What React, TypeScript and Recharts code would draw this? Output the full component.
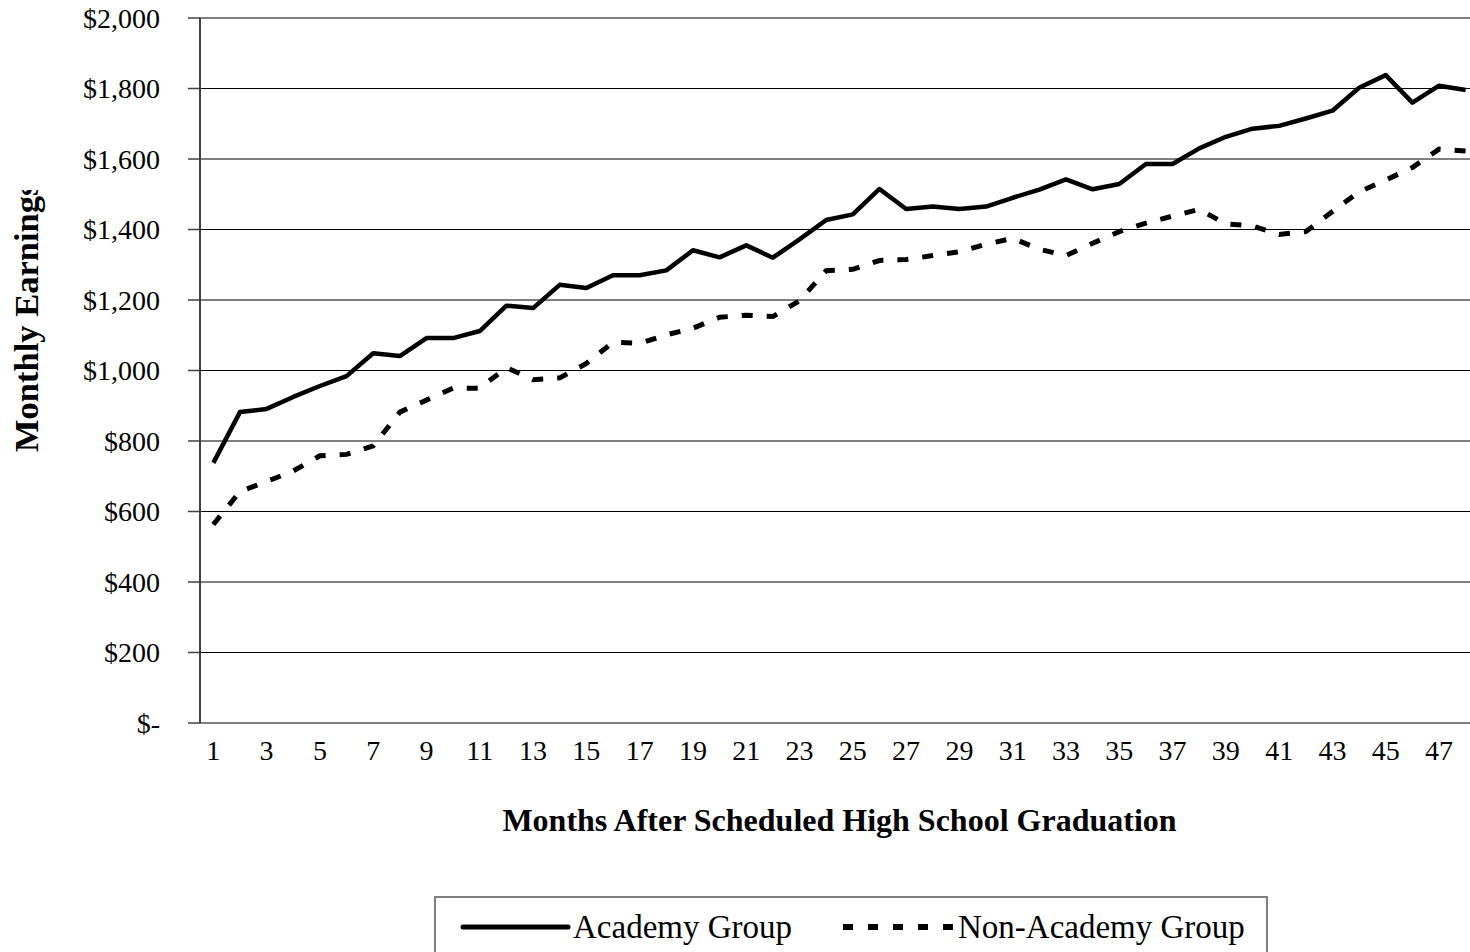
import { LineChart, Line, XAxis, YAxis, CartesianGrid, Legend } from 'recharts';

const FONT = '"Liberation Serif", "Times New Roman", serif';

const months = [
  1, 2, 3, 4, 5, 6, 7, 8, 9, 10, 11, 12, 13, 14, 15, 16, 17, 18, 19, 20, 21, 22, 23, 24,
  25, 26, 27, 28, 29, 30, 31, 32, 33, 34, 35, 36, 37, 38, 39, 40, 41, 42, 43, 44, 45, 46, 47, 48,
];

const academy = [
  738, 882, 891, 925, 956, 984, 1049, 1041, 1092, 1092, 1112, 1184,
  1177, 1243, 1234, 1270, 1270, 1284, 1341, 1321, 1355, 1320, 1372, 1427,
  1443, 1515, 1458, 1465, 1458, 1465, 1490, 1513, 1542, 1514, 1529, 1586,
  1586, 1630, 1663, 1686, 1694, 1715, 1737, 1802, 1838, 1760, 1808, 1796,
];

const nonAcademy = [
  563, 657, 685, 715, 758, 762, 786, 882, 916, 950, 950, 1008,
  974, 979, 1020, 1080, 1077, 1101, 1120, 1151, 1157, 1153, 1198, 1283,
  1287, 1312, 1315, 1326, 1337, 1358, 1375, 1344, 1326, 1361, 1394, 1418,
  1438, 1457, 1416, 1410, 1386, 1394, 1451, 1507, 1540, 1576, 1628, 1623,
];

const yTicks = [0, 200, 400, 600, 800, 1000, 1200, 1400, 1600, 1800, 2000];
const monthLabels = [1, 3, 5, 7, 9, 11, 13, 15, 17, 19, 21, 23, 25, 27, 29, 31, 33, 35, 37, 39, 41, 43, 45, 47];

const data = months.map((m, i) => ({ month: m, academy: academy[i], nonAcademy: nonAcademy[i] }));
// tick marks sit between the months, like Excel's "between tick marks"
const monthEdges = [0, ...months].map((m) => m + 0.5);

const fmtDollar = (v: number) => (v === 0 ? '$-' : '$' + v.toLocaleString('en-US'));

// the title box in the original is too short, so the last letter gets cut
const YTitle = () => (
  <g>
    <defs>
      <clipPath id="ytitle-clip" clipPathUnits="userSpaceOnUse">
        <rect x={0} y={190} width={80} height={400} />
      </clipPath>
    </defs>
    <g clipPath="url(#ytitle-clip)">
      <text
        x={38}
        y={452}
        transform="rotate(-90 38 452)"
        fontFamily={FONT}
        fontWeight="bold"
        fontSize={34.5}
        fill="#000"
      >
        Monthly Earnings
      </text>
    </g>
  </g>
);

const XTitle = (props: any) => {
  const vb = props.viewBox || {};
  return (
    <text
      x={vb.x + vb.width / 2}
      y={vb.y + 108}
      textAnchor="middle"
      fontFamily={FONT}
      fontWeight="bold"
      fontSize={32}
      fill="#000"
    >
      Months After Scheduled High School Graduation
    </text>
  );
};

const LegendBox = (props: any) => {
  const items = props.payload || [];
  const starts = [29, 409];
  const lens = [105, 110];
  return (
    <svg width={834} height={70} style={{ display: 'block' }}>
      <rect x={1} y={1} width={832} height={90} fill="#fff" stroke="#808080" strokeWidth={2} />
      {items.map((it: any, i: number) => {
        const x0 = starts[i] ?? 29;
        const dashed = i === 1 || !!it.payload?.strokeDasharray;
        return (
          <g key={i}>
            <line
              x1={x0}
              x2={x0 + lens[i]}
              y1={31}
              y2={31}
              stroke="#000"
              strokeWidth={dashed ? 6 : 5}
              strokeDasharray={dashed ? '10 15' : undefined}
              strokeLinecap={dashed ? 'butt' : 'round'}
            />
            <text x={x0 + lens[i] + 5} y={42} fontFamily={FONT} fontSize={33} fill="#000">
              {it.value}
            </text>
          </g>
        );
      })}
    </svg>
  );
};

export default function App() {
  return (
    <div
      style={{
        position: 'fixed',
        left: 0,
        top: 0,
        width: 1470,
        height: 952,
        overflow: 'hidden',
        background: '#fff',
      }}
    >
      <LineChart
        width={1490}
        height={952}
        data={data}
        margin={{ top: 18, right: 11, bottom: 0, left: 0 }}
        style={{ fontFamily: FONT }}
      >
        <CartesianGrid vertical={false} stroke="#000" strokeWidth={1} />
        <XAxis
          dataKey="month"
          type="number"
          domain={[0.5, 48.5]}
          ticks={monthEdges}
          tick={false}
          tickSize={10}
          height={0}
          axisLine={{ stroke: '#404040', strokeWidth: 2 }}
          tickLine={{ stroke: '#404040', strokeWidth: 1.5 }}
        />
        <XAxis
          xAxisId="labels"
          dataKey="month"
          type="number"
          domain={[0.5, 48.5]}
          ticks={monthLabels}
          interval={0}
          axisLine={false}
          tickLine={false}
          tickSize={10}
          tickMargin={7}
          height={229}
          tick={{ fill: '#000', fontSize: 28, fontFamily: FONT }}
          label={<XTitle />}
        />
        <YAxis
          domain={[0, 2000]}
          ticks={yTicks}
          interval={0}
          width={200}
          tickFormatter={fmtDollar}
          tickSize={12}
          tickMargin={28}
          axisLine={{ stroke: '#404040', strokeWidth: 2 }}
          tickLine={{ stroke: '#404040', strokeWidth: 1.5 }}
          tick={{ fill: '#000', fontSize: 28, fontFamily: FONT }}
          label={<YTitle />}
        />
        <Legend
          layout="horizontal"
          verticalAlign="middle"
          align="center"
          content={<LegendBox />}
          wrapperStyle={{ left: 434, top: 896, width: 834, height: 70 }}
        />
        <Line
          name="Academy Group"
          dataKey="academy"
          stroke="#000"
          strokeWidth={4.5}
          strokeLinejoin="round"
          dot={false}
          activeDot={false}
          isAnimationActive={false}
        />
        <Line
          name="Non-Academy Group"
          dataKey="nonAcademy"
          stroke="#000"
          strokeWidth={5}
          strokeDasharray="11 14"
          dot={false}
          activeDot={false}
          isAnimationActive={false}
        />
      </LineChart>
    </div>
  );
}
